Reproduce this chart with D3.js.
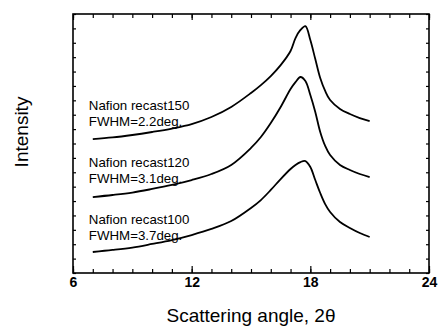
<!DOCTYPE html>
<html>
<head>
<meta charset="utf-8">
<script src="https://cdn.jsdelivr.net/npm/d3@7/dist/d3.min.js"></script>
<style>
  html, body { margin: 0; padding: 0; background: #fff; }
  svg { display: block; font-family: "Liberation Sans", Arial, sans-serif; }
</style>
</head>
<body>
<svg id="chart" width="438" height="329"></svg>
<script>
// scattering angle (2theta, deg)
const angles = [7, 8, 9, 10, 11, 12, 13, 14, 15, 15.5, 16, 16.5, 17, 17.25, 17.5, 17.75,
  18, 18.25, 18.5, 18.75, 19, 19.5, 20, 20.5, 21];

// intensity, offset traces (arbitrary units)
const recast150 = [9.31, 9.42, 9.59, 9.80, 10.04, 10.35, 10.84, 11.54, 12.51, 13.06, 13.69, 14.45,
  15.43, 16.33, 16.89, 17.16, 16.19, 14.87, 13.55, 12.65, 12.02, 11.40, 11.05, 10.77, 10.56];
const recast120 = [5.28, 5.42, 5.59, 5.84, 6.12, 6.46, 6.88, 7.51, 8.69, 9.45, 10.42, 11.54,
  12.79, 13.27, 13.62, 13.34, 12.37, 11.19, 9.80, 8.83, 8.20, 7.51, 7.16, 6.88, 6.67];
const recast100 = [1.46, 1.60, 1.77, 2.02, 2.29, 2.64, 3.06, 3.61, 4.52, 5.07, 5.77, 6.53,
  7.23, 7.51, 7.71, 7.78, 7.37, 6.46, 5.56, 4.79, 4.24, 3.54, 3.13, 2.78, 2.50];

const seriesLabels = [
  ["Nafion recast150", "FWHM=2.2deg."],
  ["Nafion recast120", "FWHM=3.1deg."],
  ["Nafion recast100", "FWHM=3.7deg."]
];
const majorTicks = [6, 12, 18, 24];

const margin = {top: 14, right: 9, bottom: 56, left: 73};
const width = 438 - margin.left - margin.right;
const height = 329 - margin.top - margin.bottom;

const svg = d3.select('#chart');
const plot = svg.append('g')
  .attr('transform', `translate(${margin.left}, ${margin.top})`);

const x = d3.scaleLinear().domain([6, 24]).range([0, width]);
const y = d3.scaleLinear().domain([0, 18]).range([height, 0]);

// minor ticks, all four sides, pointing inward
const minorX = d3.range(6, 25, 1);
const minorY = d3.range(0, 19, 1);

function tickAxis(axis, tr) {
  const g = plot.append('g').attr('transform', tr).call(axis);
  g.select('.domain').remove();
  g.selectAll('line').attr('stroke', '#000').attr('stroke-width', 1.2);
  return g;
}

tickAxis(d3.axisBottom(x).tickValues(minorX).tickSize(-4).tickFormat(''), `translate(0, ${height})`);
tickAxis(d3.axisTop(x).tickValues(minorX).tickSize(-4).tickFormat(''), 'translate(0, 0)');
tickAxis(d3.axisLeft(y).tickValues(minorY).tickSize(-3).tickFormat(''), 'translate(0, 0)');
tickAxis(d3.axisRight(y).tickValues(minorY).tickSize(-3).tickFormat(''), `translate(${width}, 0)`);

tickAxis(d3.axisTop(x).tickValues(majorTicks).tickSize(-6).tickFormat(''), 'translate(0, 0)');
const xMajor = tickAxis(d3.axisBottom(x).tickValues(majorTicks).tickSize(-7).tickPadding(4),
  `translate(0, ${height})`);
xMajor.selectAll('text')
  .attr('fill', '#000')
  .style('font-size', '14px')
  .style('font-weight', 'bold');

// frame
plot.append('rect')
  .attr('x', 0).attr('y', 0)
  .attr('width', width).attr('height', height)
  .attr('fill', 'none')
  .attr('stroke', '#000')
  .attr('stroke-width', 1.6);

// traces
const line = d3.line()
  .x((d, i) => x(angles[i]))
  .y(d => y(d))
  .curve(d3.curveCatmullRom);

[recast150, recast120, recast100].forEach(s => {
  plot.append('path')
    .datum(s)
    .attr('d', line)
    .attr('fill', 'none')
    .attr('stroke', '#000')
    .attr('stroke-width', 1.8)
    .attr('stroke-linejoin', 'round');
});

// trace labels
const labelY = [11.33, 7.39, 3.41];
seriesLabels.forEach((lines, i) => {
  const t = plot.append('text')
    .attr('x', x(6.8))
    .attr('y', y(labelY[i]))
    .style('font-size', '13.3px')
    .attr('fill', '#000');
  lines.forEach((txt, j) => {
    t.append('tspan')
      .attr('x', x(6.8))
      .attr('dy', j === 0 ? 0 : 16)
      .text(txt);
  });
});

// axis titles
svg.append('text')
  .attr('x', margin.left + width / 2)
  .attr('y', 322)
  .attr('text-anchor', 'middle')
  .style('font-size', '19px')
  .text('Scattering angle, 2\u03b8');

svg.append('text')
  .attr('transform', 'translate(28, 132) rotate(-90)')
  .attr('text-anchor', 'middle')
  .style('font-size', '19px')
  .text('Intensity');
</script>
</body>
</html>
